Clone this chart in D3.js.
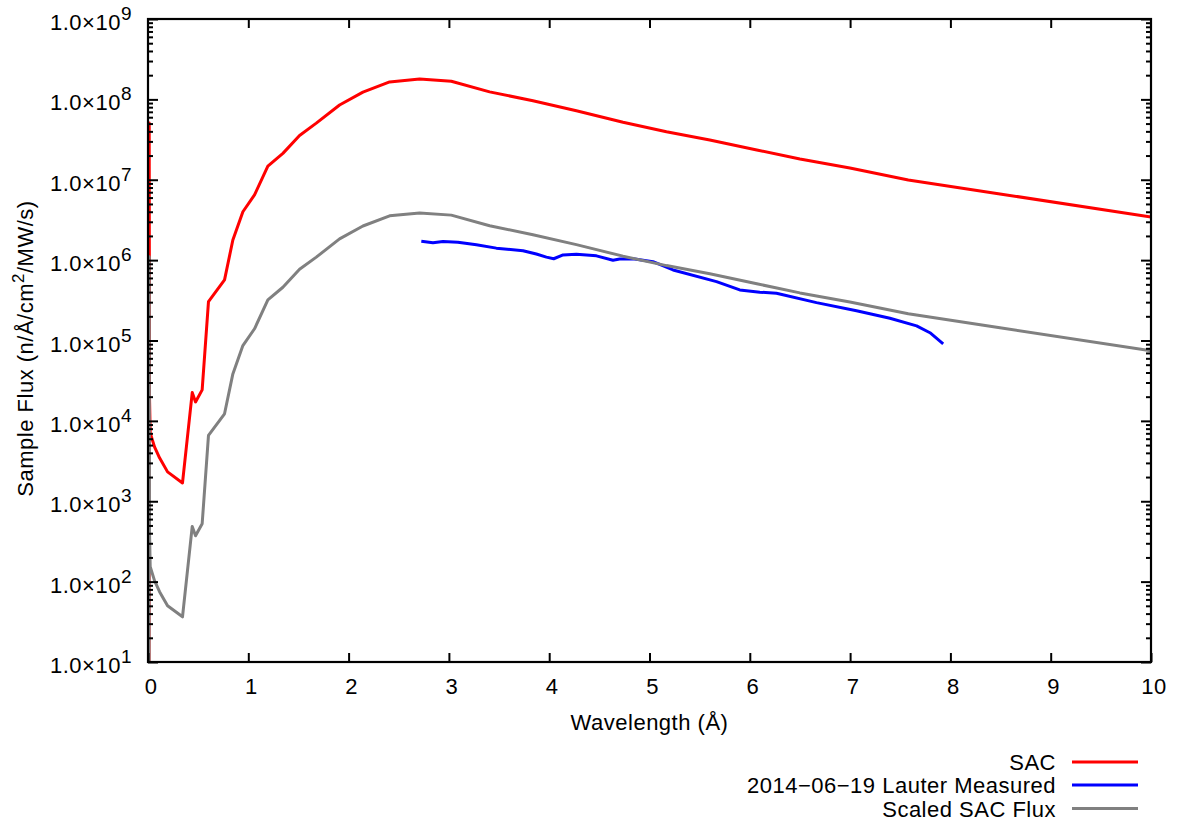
<!DOCTYPE html>
<html>
<head>
<meta charset="utf-8">
<script src="https://cdn.jsdelivr.net/npm/d3@7"></script>
<style>
  html, body { margin: 0; padding: 0; background: #fff; }
  svg { display: block; font-family: "Liberation Sans", Arial, Helvetica, sans-serif; }
  svg text { letter-spacing: 0.5px; }
</style>
</head>
<body>
<svg id="chart" width="1177" height="821"></svg>
<script>
// ---- Data ----
const sacX = [0.010, 0.012, 0.015, 0.022, 0.065, 0.115, 0.195, 0.344, 0.441, 0.474, 0.54, 0.603, 0.763, 0.846, 0.946, 1.062, 1.195, 1.345, 1.511, 1.678, 1.91, 2.143, 2.409, 2.708, 3.024, 3.406, 3.838, 4.271, 4.736, 5.169, 5.601, 6.07, 6.5, 6.998, 7.58, 8.494, 10];
const sacY = [1, 5.1e7, 2.0e4, 7.1e3, 4.75e3, 3.47e3, 2.32e3, 1.69e3, 2.25e4, 1.72e4, 2.43e4, 3.05e5, 5.67e5, 1.78e6, 4.0e6, 6.47e6, 1.48e7, 2.13e7, 3.56e7, 5.06e7, 8.52e7, 1.23e8, 1.65e8, 1.79e8, 1.68e8, 1.24e8, 9.6e7, 7.23e7, 5.19e7, 3.96e7, 3.13e7, 2.35e7, 1.81e7, 1.40e7, 9.95e6, 6.66e6, 3.44e6];

const scaledX = [0.010, 0.012, 0.015, 0.022, 0.065, 0.115, 0.195, 0.344, 0.441, 0.474, 0.54, 0.603, 0.763, 0.846, 0.946, 1.062, 1.195, 1.345, 1.511, 1.678, 1.91, 2.143, 2.409, 2.708, 3.024, 3.406, 3.838, 4.271, 4.736, 5.169, 5.601, 6.07, 6.5, 6.998, 7.58, 8.494, 10];
const scaledY = [0.02, 1.10e6, 432, 153, 103, 75, 50, 36.5, 486, 372, 525, 6590, 12250, 38400, 86400, 1.40e5, 3.20e5, 4.60e5, 7.69e5, 1.09e6, 1.84e6, 2.66e6, 3.56e6, 3.87e6, 3.63e6, 2.68e6, 2.07e6, 1.56e6, 1.12e6, 8.55e5, 6.76e5, 5.08e5, 3.91e5, 3.02e5, 2.15e5, 1.44e5, 7.43e4];

const lauterX = [2.725, 2.841, 2.941, 3.09, 3.274, 3.473, 3.739, 3.872, 3.972, 4.045, 4.138, 4.271, 4.471, 4.636, 4.703, 4.836, 5.035, 5.235, 5.668, 5.9, 6.1, 6.266, 6.665, 7.064, 7.397, 7.663, 7.796, 7.928];
const lauterY = [1.72e6, 1.65e6, 1.70e6, 1.67e6, 1.55e6, 1.41e6, 1.31e6, 1.19e6, 1.09e6, 1.04e6, 1.16e6, 1.18e6, 1.13e6, 9.97e5, 1.03e6, 1.04e6, 9.57e5, 7.55e5, 5.4e5, 4.26e5, 3.99e5, 3.87e5, 2.96e5, 2.35e5, 1.89e5, 1.52e5, 1.25e5, 9.07e4];

const xTicks = [0, 1, 2, 3, 4, 5, 6, 7, 8, 9, 10];
const yTickExps = [1, 2, 3, 4, 5, 6, 7, 8, 9];

const seriesNames = ["SAC", "2014\u221206\u221219 Lauter Measured", "Scaled SAC Flux"];
const seriesColors = ["#ff0000", "#0000ff", "#808080"];

const xLabel = "Wavelength (\u00C5)";

// ---- Layout ----
const L = 148, R = 1151, T = 19, B = 662;
const FS = 22;

const svg = d3.select("#chart");
const x = d3.scaleLinear().domain([0, 10]).range([L, R]);
const y = d3.scaleLog().domain([10, 1e9]).range([B, T]);

svg.append("defs").append("clipPath").attr("id", "plotclip")
  .append("rect").attr("x", L).attr("y", T).attr("width", R - L).attr("height", B - T);

// Curves
const line = d3.line().x(d => x(d[0])).y(d => y(Math.max(d[1], 1e-3)));
const series = [
  d3.zip(sacX, sacY),
  d3.zip(lauterX, lauterY),
  d3.zip(scaledX, scaledY)
];
const plotG = svg.append("g").attr("clip-path", "url(#plotclip)");
series.forEach((data, i) => {
  plotG.append("path")
    .datum(data)
    .attr("d", line)
    .attr("fill", "none")
    .attr("stroke", seriesColors[i])
    .attr("stroke-width", 3)
    .attr("stroke-linejoin", "round")
    .attr("stroke-linecap", "butt");
});

// Axes (gnuplot style: ticks inside, mirrored)
const axG = svg.append("g");
axG.append("g").attr("transform", `translate(0,${B})`)
  .call(d3.axisBottom(x).tickValues(xTicks).tickSize(-9).tickFormat(""))
  .call(g => g.select(".domain").remove());
axG.append("g").attr("transform", `translate(0,${T})`)
  .call(d3.axisTop(x).tickValues(xTicks.slice(1, -1)).tickSize(-9).tickFormat(""))
  .call(g => g.select(".domain").remove());

const yMajor = yTickExps.map(e => Math.pow(10, e));
const yMinor = [];
yTickExps.slice(0, -1).forEach(e => { for (let k = 2; k <= 9; k++) yMinor.push(k * Math.pow(10, e)); });

axG.append("g").attr("transform", `translate(${L},0)`)
  .call(d3.axisLeft(y).tickValues(yMajor).tickSize(-10).tickFormat(""))
  .call(g => g.select(".domain").remove());
axG.append("g").attr("transform", `translate(${L},0)`)
  .call(d3.axisLeft(y).tickValues(yMinor).tickSize(-5).tickFormat(""))
  .call(g => g.select(".domain").remove());
axG.append("g").attr("transform", `translate(${R},0)`)
  .call(d3.axisRight(y).tickValues(yMajor).tickSize(-10).tickFormat(""))
  .call(g => g.select(".domain").remove());
axG.append("g").attr("transform", `translate(${R},0)`)
  .call(d3.axisRight(y).tickValues(yMinor).tickSize(-5).tickFormat(""))
  .call(g => g.select(".domain").remove());

axG.selectAll(".tick line").attr("stroke", "#000").attr("stroke-width", 2);

// border
svg.append("rect").attr("x", L).attr("y", T).attr("width", R - L).attr("height", B - T)
  .attr("fill", "none").attr("stroke", "#000").attr("stroke-width", 2.2);

// x tick labels
svg.append("g").selectAll("text").data(xTicks).join("text")
  .attr("x", d => x(d) + 3)
  .attr("y", 694)
  .attr("text-anchor", "middle")
  .attr("font-size", FS)
  .text(d => d);

// y tick labels 1.0x10^n
const yl = svg.append("g").selectAll("text").data(yTickExps).join("text")
  .attr("x", 132)
  .attr("y", d => y(Math.pow(10, d)) + 11)
  .attr("text-anchor", "end")
  .attr("font-size", FS);
yl.append("tspan").text("1.0\u00D710");
yl.append("tspan").attr("dy", -10).attr("font-size", 19).text(d => d);

// x label
svg.append("text")
  .attr("x", (L + R) / 2)
  .attr("y", 730)
  .attr("text-anchor", "middle")
  .attr("font-size", FS)
  .text(xLabel);

// y label
const ylab = svg.append("text")
  .attr("transform", `translate(33,${(T + B) / 2 + 8}) rotate(-90)`)
  .attr("text-anchor", "middle")
  .attr("font-size", FS);
ylab.append("tspan").text("Sample Flux (n/\u00C5/cm");
ylab.append("tspan").attr("dy", -9).attr("font-size", 17).text("2");
ylab.append("tspan").attr("dy", 9).text("/MW/s)");

// legend
const legY = [762, 785, 808.5];
const leg = svg.append("g");
seriesNames.forEach((name, i) => {
  leg.append("text")
    .attr("x", 1056)
    .attr("y", legY[i] + 8)
    .attr("text-anchor", "end")
    .attr("font-size", FS)
    .text(name);
  leg.append("line")
    .attr("x1", 1072).attr("x2", 1138)
    .attr("y1", legY[i]).attr("y2", legY[i])
    .attr("stroke", seriesColors[i]).attr("stroke-width", 3);
});
</script>
</body>
</html>
